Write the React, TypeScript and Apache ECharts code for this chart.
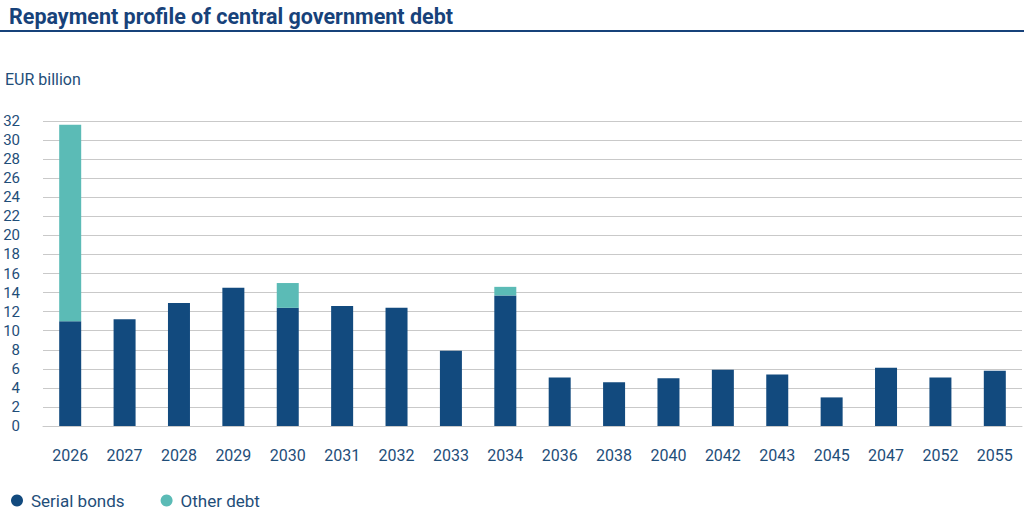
import { useEffect, useRef } from 'react';
import * as echarts from 'echarts';

const years = ['2026', '2027', '2028', '2029', '2030', '2031', '2032', '2033', '2034',
    '2036', '2038', '2040', '2042', '2043', '2045', '2047', '2052', '2055'];
const serialBonds = [11.0, 11.2, 12.9, 14.5, 12.4, 12.6, 12.4, 7.9, 13.7,
    5.1, 4.6, 5.0, 5.9, 5.4, 3.0, 6.1, 5.1, 5.8];
const otherDebt = [20.6, 0, 0, 0, 2.6, 0, 0, 0, 0.9,
    0, 0, 0, 0, 0, 0, 0, 0, 0];

const darkBlue = '#124a7e';
const teal = '#5bbbb6';
const textBlue = '#1f4e79';
const gridGrey = '#c9c9c9';

const App = () => {
    const chartRef = useRef<HTMLDivElement>(null);

    useEffect(() => {
        if (!chartRef.current) return;
        const chart = echarts.init(chartRef.current, null, { renderer: 'svg' });

        chart.setOption({
            animation: false,
            backgroundColor: '#fff',
            textStyle: { fontFamily: 'Roboto' },
            title: {
                text: 'Repayment profile of central government debt',
                left: 4,
                top: 0,
                textStyle: { fontSize: 21.5, fontWeight: 'bold', color: '#17427a', fontFamily: 'Roboto' }
            },
            graphic: [
                {
                    type: 'line',
                    shape: { x1: 0, y1: 31, x2: 1024, y2: 31 },
                    style: { stroke: '#17427a', lineWidth: 2 }
                },
                {
                    type: 'text',
                    left: 5,
                    top: 71,
                    style: { text: 'EUR billion', fill: textBlue, fontSize: 16, fontFamily: 'Roboto' }
                }
            ],
            legend: {
                left: 11,
                top: 492,
                padding: 0,
                icon: 'circle',
                itemWidth: 12,
                itemHeight: 12,
                itemGap: 36,
                textStyle: { color: textBlue, fontSize: 17, fontFamily: 'Roboto', padding: [0, 0, 0, 3] },
                data: ['Serial bonds', 'Other debt']
            },
            grid: { left: 43, right: 2, top: 121, bottom: 85 },
            xAxis: {
                type: 'category',
                data: years,
                axisLine: { lineStyle: { color: gridGrey } },
                axisTick: { show: false },
                axisLabel: { color: textBlue, fontSize: 16, margin: 21, fontFamily: 'Roboto' }
            },
            yAxis: {
                type: 'value',
                min: 0,
                max: 32,
                interval: 2,
                axisLabel: { color: textBlue, fontSize: 15, margin: 23, fontFamily: 'Roboto' },
                splitLine: { lineStyle: { color: gridGrey } }
            },
            series: [
                {
                    name: 'Serial bonds',
                    type: 'bar',
                    stack: 'debt',
                    barWidth: 22,
                    itemStyle: { color: darkBlue },
                    data: serialBonds
                },
                {
                    name: 'Other debt',
                    type: 'bar',
                    stack: 'debt',
                    barWidth: 22,
                    itemStyle: { color: teal },
                    data: otherDebt
                }
            ]
        });

        return () => {
            chart.dispose();
        };
    }, []);

    return <div ref={chartRef} style={{ position: 'fixed', left: 0, top: 0, width: 1024, height: 511 }} />;
};

export default App;
